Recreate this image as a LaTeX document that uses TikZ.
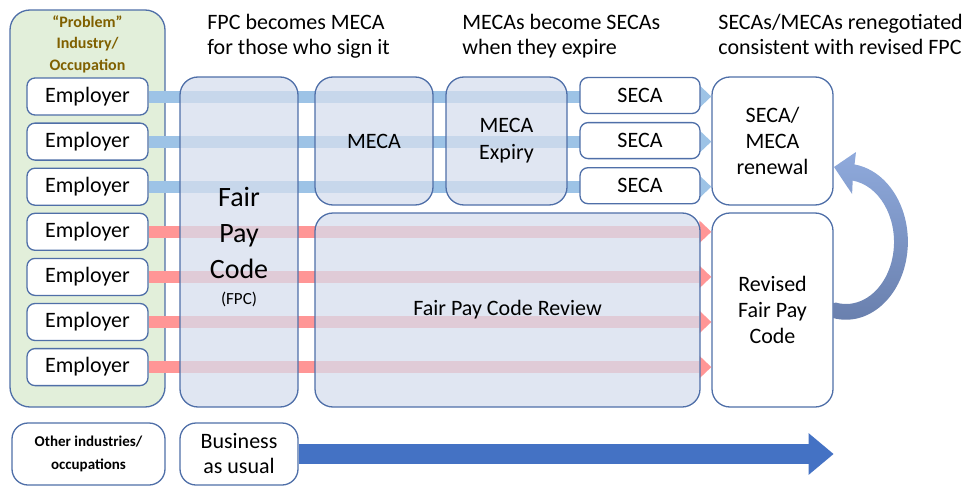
\documentclass[tikz,border=0pt]{standalone}
\usepackage{fontspec}
\setmainfont{Carlito}
\usepackage{tikz}
\usetikzlibrary{positioning,arrows.meta}

\definecolor{boxline}{RGB}{79,111,168}
\definecolor{probgreen}{RGB}{226,239,218}
\definecolor{probtext}{RGB}{128,96,0}
\definecolor{tint}{RGB}{214,222,238}
\definecolor{secablue}{RGB}{157,195,230}
\definecolor{fpcred}{RGB}{255,150,150}
\definecolor{bau}{RGB}{68,114,196}
\definecolor{curvetop}{RGB}{143,170,220}
\definecolor{curvebot}{RGB}{104,126,172}

\begin{document}
\begin{tikzpicture}[x=0.5pt,y=-0.5pt,node distance=3.4pt,font=\fontsize{11}{13}\selectfont,
  box/.style={draw=boxline,line width=0.65pt,rounded corners=9pt,align=center,inner sep=0pt},
  empbox/.style={box,fill=white,rounded corners=4pt,minimum width=60.5pt,minimum height=18.5pt},
  secabox/.style={box,fill=white,rounded corners=4pt,minimum width=60pt,minimum height=18pt},
  tintbox/.style={box,fill=tint,fill opacity=0.75,text opacity=1},
  stripe/.style={line width=6pt,-{Triangle[length=6pt,width=11pt]}},
  heading/.style={anchor=north west,align=left,inner sep=0pt,font=\fontsize{11}{12.5}\selectfont}]
\useasboundingbox (0,0) rectangle (970,487);

\node[box,fill=probgreen,rounded corners=10pt,minimum width=77.5pt,minimum height=198.5pt] (prob) at (87.5,208.5) {};
\node[text=probtext,align=center,font=\fontsize{8}{10.75}\selectfont\bfseries] (probtitle) at (87.5,44) {“Problem”\\Industry/\\Occupation};

\node[empbox] (emp1) at (87.5,96.5) {Employer};
\node[empbox,below=of emp1] (emp2) {Employer};
\node[empbox,below=of emp2] (emp3) {Employer};
\node[empbox,below=of emp3] (emp4) {Employer};
\node[empbox,below=of emp4] (emp5) {Employer};
\node[empbox,below=of emp5] (emp6) {Employer};
\node[empbox,below=of emp6] (emp7) {Employer};

\node[box,fill=white,minimum width=60.5pt,minimum height=64pt] (renew) at (772.5,141) {SECA/\\MECA\\renewal};
\node[box,fill=white,minimum width=60.5pt,minimum height=97pt] (revised) at (772.5,310) {Revised\\Fair Pay\\Code};

% rows of employers running across
\foreach \i in {1,2,3}
  \draw[stripe,secablue] (emp\i.east) -- (emp\i.east -| renew.west);
\foreach \i in {4,...,7}
  \draw[stripe,fpcred] (emp\i.east) -- (emp\i.east -| revised.west);

\node[tintbox,minimum width=59pt,minimum height=165pt,font=\fontsize{14}{18}\selectfont] (fpc) at (239,242)
  {\rule{0pt}{14.5pt}Fair\\Pay\\Code\\[-4.75pt]{\fontsize{8.5}{10}\selectfont(FPC)}};
\node[tintbox,minimum width=59pt,minimum height=64pt] (meca) at (374,141) {MECA};
\node[tintbox,minimum width=60.5pt,minimum height=64pt,font=\fontsize{11}{13.5}\selectfont] (expiry) at (506.5,141) {MECA\\Expiry};
\node[tintbox,minimum width=192.5pt,minimum height=97pt] (review) at (507.5,310) {Fair Pay Code Review};

\node[secabox] (seca1) at (640,95.5) {SECA};
\node[secabox,below=3.9pt of seca1] (seca2) {SECA};
\node[secabox,below=3.9pt of seca2] (seca3) {SECA};

\node[box,fill=white,rounded corners=8pt,minimum width=76.5pt,minimum height=31pt,font=\fontsize{7.5}{11.5}\selectfont\bfseries] (other) at (88.5,454) {Other industries/\\occupations};
\node[box,fill=white,rounded corners=8pt,minimum width=59pt,minimum height=31pt,font=\fontsize{11}{12.5}\selectfont] (busi) at (239,454) {Business\\as usual};
\draw[bau,line width=10pt,-{Triangle[length=12.5pt,width=20pt]}] (busi.east) -- (busi.east -| revised.east);

\node[heading] (hd1) at (207,14) {FPC becomes MECA\\for those who sign it};
\node[heading] (hd2) at (462,14) {MECAs become SECAs\\when they expire};
\node[heading] (hd3) at (718,14) {SECAs/MECAs renegotiated\\consistent with revised FPC};

% renewal loop
\shade[top color=curvetop,bottom color=curvebot] (833,318)
  arc[start angle=102,end angle=-82,x radius=62,y radius=78]
  -- (856,152) -- (834,167) -- (852.1,194) -- (852.7,180.6)
  arc[start angle=-82,end angle=102,x radius=48,y radius=62] -- (833,303) -- cycle;
\end{tikzpicture}
\end{document}
